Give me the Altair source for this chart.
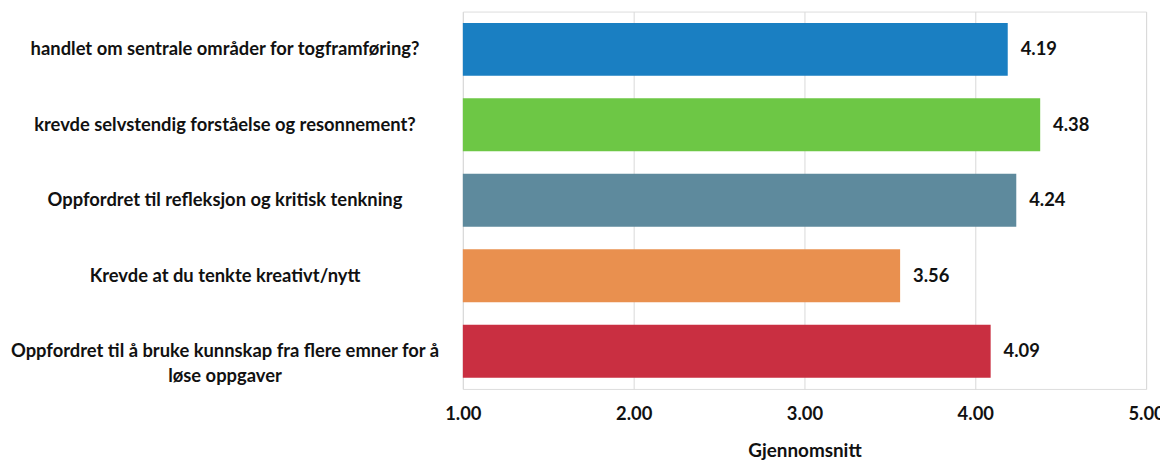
import altair as alt
import pandas as pd

categories = [
    "handlet om sentrale områder for togframføring?",
    "krevde selvstendig forståelse og resonnement?",
    "Oppfordret til refleksjon og kritisk tenkning",
    "Krevde at du tenkte kreativt/nytt",
    "Oppfordret til å bruke kunnskap fra flere emner for å|løse oppgaver",
]
values = [4.19, 4.38, 4.24, 3.56, 4.09]
colors = ["#1a7fc2", "#6dc745", "#5e8a9d", "#e9904f", "#c92f41"]
x_ticks = [1, 2, 3, 4, 5]

df = pd.DataFrame({"cat": categories, "val": values, "col": colors})

FONT = "Lato"

base = alt.Chart(df).encode(
    y=alt.Y(
        "cat:N",
        sort=categories,
        title=None,
        scale=alt.Scale(paddingInner=0.3, paddingOuter=0.15),
        axis=alt.Axis(
            labelAlign="center",
            labelBaseline="middle",
            labelPadding=240,
            ticks=False,
            tickSize=0,
            domain=False,
            grid=False,
            labelFont=FONT,
            labelFontSize=18.5,
            labelFontWeight="bold",
            labelColor="#111111",
            labelLimit=600,
            labelLineHeight=25,
            labelExpr="split(datum.label, '|')",
        ),
    )
)

bars = base.mark_bar().encode(
    x=alt.X(
        "val:Q",
        title="Gjennomsnitt",
        scale=alt.Scale(domain=[1, 5], nice=False, zero=False),
        axis=alt.Axis(
            values=x_ticks,
            format=".2f",
            grid=True,
            gridColor="#d9d9d9",
            gridWidth=1,
            domain=False,
            ticks=False,
            tickSize=0,
            labelPadding=16,
            labelFont=FONT,
            labelFontSize=18.5,
            labelFontWeight="bold",
            labelColor="#111111",
            labelFlush=False,
            labelOverlap=False,
            titleFont=FONT,
            titleFontSize=19,
            titleFontWeight="bold",
            titleColor="#111111",
            titlePadding=19,
        ),
    ),
    x2=alt.datum(1),
    color=alt.Color("col:N", scale=None, legend=None),
)

labels = base.mark_text(
    align="left",
    baseline="middle",
    dx=13,
    font=FONT,
    fontSize=18.5,
    fontWeight="bold",
    color="#111111",
).encode(
    x=alt.X("val:Q"),
    text=alt.Text("val:Q", format=".2f"),
)

chart = (
    alt.layer(bars, labels)
    .properties(
        width=688,
        height=380,
        autosize=alt.AutoSizeParams(type="none"),
        padding={"left": 458, "top": 2, "right": 14, "bottom": 78},
    )
    .configure_view(strokeWidth=0)
    .configure(background="white")
)

chart.save("out.html", embed_options={"renderer": "svg", "actions": False})
